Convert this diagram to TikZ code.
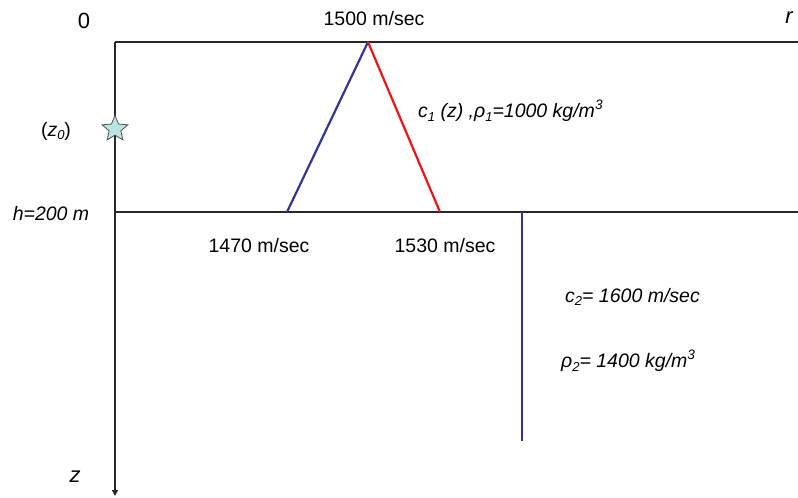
\documentclass[tikz,border=0pt]{standalone}
\usepackage{fontspec}
\setmainfont{Liberation Sans}
\usetikzlibrary{arrows.meta, positioning, shapes.geometric}
\definecolor{raynavy}{RGB}{52, 52, 150}
\definecolor{rayred}{RGB}{240, 20, 20}
\definecolor{srcfill}{RGB}{185, 228, 228}
\definecolor{axisgray}{RGB}{40, 40, 40}
\tikzset{
  lbl/.style={font=\fontsize{19.5}{22}\selectfont, inner sep=1pt},
  ilbl/.style={lbl, font=\fontsize{19.5}{22}\selectfont\itshape},
  axlbl/.style={lbl, font=\fontsize{22}{24}\selectfont},
  bound/.style={axisgray, line width=1.5pt},
  ray/.style={line width=2.2pt},
  src/.style={star, star points=5, star point ratio=2.2, minimum size=27pt, inner sep=0pt, fill=srcfill, draw=axisgray!80, line width=0.8pt}
}
\newcommand{\lowsub}[1]{\raisebox{-0.35ex}{\fontsize{13}{14}\selectfont #1}}
\begin{document}
\begin{tikzpicture}[x=1pt, y=-1pt]
                \useasboundingbox (0,0) rectangle (798,498);
                % frame of the waveguide
                \coordinate (origin) at (115,42);
                \coordinate (surfend) at (798,42);
                \coordinate (bottom) at (115,212);
                \coordinate (botend) at (798,212);
                \coordinate (zend) at (115,496);
                % sound speed profile
                \coordinate (apex) at (368,42);
                \coordinate (cmin) at (287,212);
                \coordinate (cmax) at (440,212);
                \coordinate (ctop) at (522,212);
                \coordinate (cbot) at (522,441);
                \draw[bound] (origin) -- (surfend);
                \draw[bound] (bottom) -- (botend);
                \draw[bound, -{Triangle[length=6pt, width=6pt]}] (origin) -- (zend);
                \draw[ray, raynavy] (cmin) -- (apex);
                \draw[ray, rayred] (apex) -- (cmax);
                \draw[ray, raynavy] (ctop) -- (cbot);
                \node[src] (source) at (115,129) {};
                % labels
                \node[axlbl] (zero) at (84,21) {0};
                \node[axlbl, font=\fontsize{22}{24}\selectfont\itshape] (rlab) at (789,18) {r};
                \node[axlbl, font=\fontsize{22}{24}\selectfont\itshape] (zlab) at (75,477) {z};
                \node[lbl] (c0) at (374,19) {1500 m/sec};
                \node[lbl] (zsrc) at (56,131) {(\textit{z}\lowsub{\textit{0}})};
                \node[ilbl] (hlab) at (51,214) {h=200 m};
                \node[lbl] (cleft) at (259,246) {1470 m/sec};
                \node[lbl] (cright) at (445,246) {1530 m/sec};
                \node[ilbl, anchor=west] (layer1) at (417,111) {c\lowsub{1} (z) ,ρ\lowsub{1}=1000 kg/m\textsuperscript{3}};
                \node[ilbl, anchor=west] (c2lab) at (564,297) {c\lowsub{2}= 1600 m/sec};
                \node[ilbl, anchor=west] (rho2lab) at (560,361) {ρ\lowsub{2}= 1400 kg/m\textsuperscript{3}};
            \end{tikzpicture}
\end{document}
